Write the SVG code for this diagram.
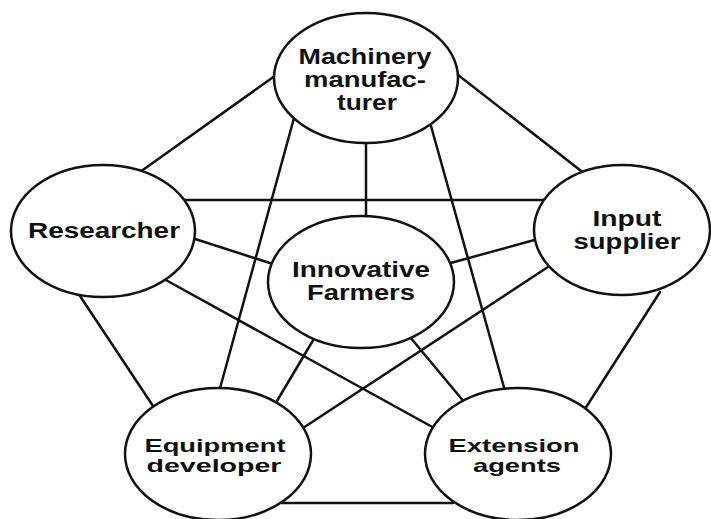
<svg xmlns="http://www.w3.org/2000/svg" width="711" height="519" viewBox="0 0 711 519">
<style>
.c line{stroke:#111;stroke-width:2.5;stroke-linecap:round}
.n ellipse{fill:#fff;stroke:#111;stroke-width:2.5}
.n text{font-family:"Liberation Sans",Arial,sans-serif;font-weight:bold;font-size:22px;fill:#111;text-anchor:middle}
.n text.s{font-size:19px}
</style>
<rect width="711" height="519" fill="#fff"/>
<g id="connectors" class="c">
<line x1="140" y1="172" x2="279" y2="73"/>
<line x1="453" y1="71" x2="585" y2="174"/>
<line x1="294" y1="118" x2="219" y2="392"/>
<line x1="366" y1="140" x2="366" y2="218"/>
<line x1="431" y1="126" x2="505" y2="391"/>
<line x1="182" y1="200" x2="548" y2="200"/>
<line x1="192" y1="238" x2="276" y2="265"/>
<line x1="78" y1="293" x2="155" y2="409"/>
<line x1="164" y1="279" x2="436" y2="429"/>
<line x1="538" y1="239" x2="447" y2="264"/>
<line x1="551" y1="265" x2="300" y2="430"/>
<line x1="660" y1="292" x2="583" y2="412"/>
<line x1="315" y1="337" x2="274" y2="406"/>
<line x1="410" y1="337" x2="465" y2="403"/>
<line x1="282" y1="503" x2="453" y2="503"/>
</g>
<g id="machinery" class="n">
<ellipse cx="366" cy="78" rx="92" ry="65"/>
<text x="365" y="64" textLength="133" lengthAdjust="spacingAndGlyphs">Machinery</text>
<text x="365" y="87" textLength="122" lengthAdjust="spacingAndGlyphs">manufac-</text>
<text x="367" y="110" textLength="60" lengthAdjust="spacingAndGlyphs">turer</text>
</g>
<g id="researcher" class="n">
<ellipse cx="103" cy="231" rx="92" ry="66"/>
<text x="104" y="238" textLength="152" lengthAdjust="spacingAndGlyphs">Researcher</text>
</g>
<g id="input" class="n">
<ellipse cx="622" cy="230" rx="88" ry="65"/>
<text x="627" y="226" textLength="69" lengthAdjust="spacingAndGlyphs">Input</text>
<text x="627" y="249" textLength="107" lengthAdjust="spacingAndGlyphs">supplier</text>
</g>
<g id="farmers" class="n">
<ellipse cx="361" cy="282" rx="93" ry="66"/>
<text x="361" y="277" textLength="138" lengthAdjust="spacingAndGlyphs">Innovative</text>
<text x="361" y="300" textLength="108" lengthAdjust="spacingAndGlyphs">Farmers</text>
</g>
<g id="equipment" class="n">
<ellipse cx="218" cy="454" rx="93" ry="66"/>
<text class="s" x="215" y="452" textLength="141" lengthAdjust="spacingAndGlyphs">Equipment</text>
<text class="s" x="214" y="472" textLength="135" lengthAdjust="spacingAndGlyphs">developer</text>
</g>
<g id="extension" class="n">
<ellipse cx="518" cy="454" rx="93" ry="66"/>
<text class="s" x="514" y="452" textLength="131" lengthAdjust="spacingAndGlyphs">Extension</text>
<text class="s" x="517" y="472" textLength="88" lengthAdjust="spacingAndGlyphs">agents</text>
</g>
</svg>
